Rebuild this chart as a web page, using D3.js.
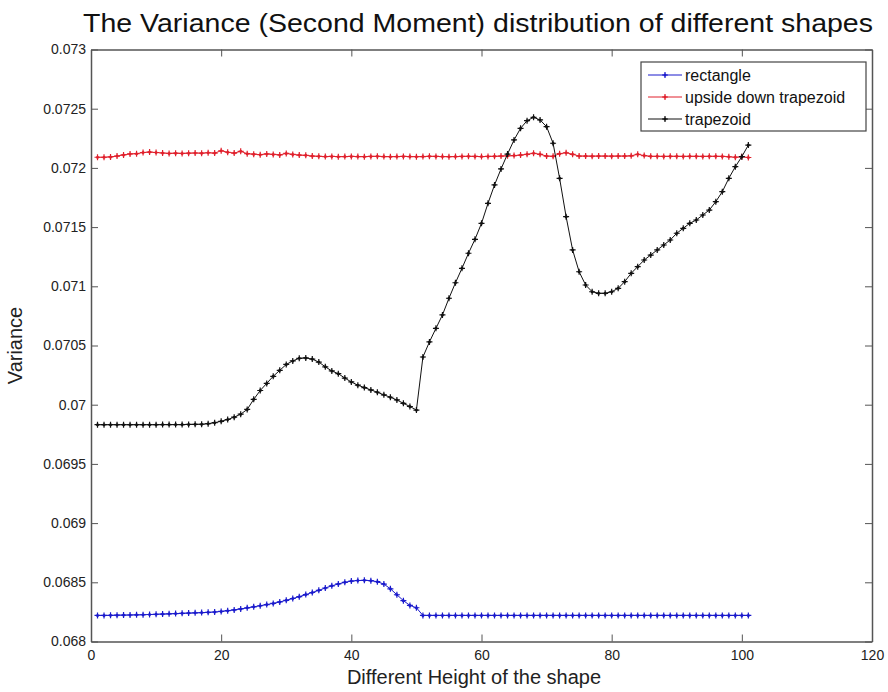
<!DOCTYPE html>
<html lang="en">
<head>
    <meta charset="UTF-8">
    <title>Variance distribution</title>
    <style>
        body { margin: 0; background: #fff; }
        text { font-family: "Liberation Sans", Arial, sans-serif; }
        .axis path, .axis line { stroke: #555; }
        .axis text { fill: #222; font-size: 14px; }
    </style>
</head>
<body>
<script src="https://d3js.org/d3.v7.min.js"></script>
<script>
    // data, x = 1..101
    var heights = d3.range(1, 102);

    var rectangle = [
        0.06822, 0.06822, 0.068221, 0.068222, 0.068223, 0.068224, 0.068225, 0.068226, 0.068228, 0.06823,
        0.068232, 0.068234, 0.068236, 0.068238, 0.06824, 0.068242, 0.068244, 0.068246, 0.068249, 0.068254,
        0.06826, 0.068267, 0.068275, 0.068284, 0.068293, 0.068302, 0.068312, 0.068322, 0.068334, 0.068348,
        0.068363, 0.068379, 0.068396, 0.068414, 0.068432, 0.068452, 0.06847, 0.068486, 0.0685, 0.06851,
        0.068515, 0.068517, 0.068514, 0.068505, 0.068485, 0.068445, 0.068395, 0.068345, 0.068305, 0.068285,
        0.06822, 0.06822, 0.06822, 0.06822, 0.06822, 0.06822, 0.06822, 0.06822, 0.06822, 0.06822,
        0.06822, 0.06822, 0.06822, 0.06822, 0.06822, 0.06822, 0.06822, 0.06822, 0.06822, 0.06822,
        0.06822, 0.06822, 0.06822, 0.06822, 0.06822, 0.06822, 0.06822, 0.06822, 0.06822, 0.06822,
        0.06822, 0.06822, 0.06822, 0.06822, 0.06822, 0.06822, 0.06822, 0.06822, 0.06822, 0.06822,
        0.06822, 0.06822, 0.06822, 0.06822, 0.06822, 0.06822, 0.06822, 0.06822, 0.06822, 0.06822,
        0.06822
    ];

    var upsideDown = [
        0.07209, 0.07209, 0.072093, 0.0721, 0.07211, 0.072118, 0.07212, 0.07213, 0.072134, 0.07213,
        0.072126, 0.072122, 0.072124, 0.072122, 0.072124, 0.072126, 0.072124, 0.072128, 0.072125, 0.072145,
        0.072132, 0.072125, 0.07214, 0.07212, 0.072116, 0.072112, 0.072118, 0.072114, 0.07211, 0.072122,
        0.072114, 0.072108, 0.072106, 0.0721, 0.072098, 0.072096, 0.072097, 0.072095, 0.072096, 0.072097,
        0.072096, 0.072095, 0.072097, 0.072098, 0.072096, 0.072095, 0.072096, 0.072097, 0.072096, 0.072095,
        0.072096, 0.072098, 0.072097, 0.072096, 0.072095, 0.072096, 0.072097, 0.072098, 0.072097, 0.072096,
        0.072097, 0.072098, 0.0721, 0.072102, 0.072104, 0.072108, 0.072115, 0.072123, 0.072115, 0.0721,
        0.072098, 0.07212, 0.072128, 0.072115, 0.0721, 0.0721, 0.072099, 0.0721, 0.0721, 0.072099,
        0.0721, 0.0721, 0.072102, 0.072115, 0.072104, 0.072098, 0.072098, 0.072097, 0.072098, 0.072098,
        0.072097, 0.072098, 0.072098, 0.072097, 0.072098, 0.072098, 0.072097, 0.072094, 0.07209, 0.072094,
        0.072088
    ];

    var trapezoid = [
        0.069831, 0.069831, 0.069831, 0.069831, 0.069831, 0.069831, 0.069831, 0.069831, 0.069831, 0.069831,
        0.069832, 0.069832, 0.069832, 0.069832, 0.069833, 0.069834, 0.069835, 0.06984, 0.069848, 0.06986,
        0.069875, 0.069895, 0.06992, 0.06996, 0.070045, 0.07012, 0.07018, 0.07024, 0.07029, 0.07034,
        0.07037, 0.070392, 0.070395, 0.070385, 0.07036, 0.07032, 0.070285, 0.070262, 0.070225, 0.070192,
        0.070165, 0.070145, 0.070125, 0.070105, 0.070083, 0.070063, 0.07004, 0.070012, 0.069985, 0.069955,
        0.070403, 0.07053, 0.070645, 0.070758, 0.070899, 0.07103, 0.071152, 0.071279, 0.071397, 0.071532,
        0.071701, 0.071856, 0.071991, 0.072117, 0.072236, 0.072334, 0.072399, 0.072427, 0.072405, 0.072348,
        0.072208, 0.071912, 0.071588, 0.071307, 0.071123, 0.071011, 0.070954, 0.070941, 0.070941, 0.070954,
        0.070983, 0.071039, 0.07111, 0.071166, 0.071222, 0.071264, 0.071307, 0.071349, 0.071391, 0.071448,
        0.07149, 0.071532, 0.07156, 0.071602, 0.071644, 0.071715, 0.071799, 0.071912, 0.07201, 0.072095,
        0.072193
    ];

    var seriesNames = ["rectangle", "upside down trapezoid", "trapezoid"];
    var seriesColors = ["#1a1acc", "#e0202c", "#111111"];
    var xTicks = [0, 20, 40, 60, 80, 100, 120];
    var yTicks = [0.068, 0.0685, 0.069, 0.0695, 0.07, 0.0705, 0.071, 0.0715, 0.072, 0.0725, 0.073];

    var W = 888, H = 692;
    var margin = {top: 49.5, right: 16, bottom: 50.5, left: 91};
    var width = W - margin.left - margin.right,
        height = H - margin.top - margin.bottom;

    var svg = d3.select("body").append("svg")
        .attr("width", W)
        .attr("height", H);

    var x = d3.scaleLinear().domain([0, 120]).range([0, width]);
    var y = d3.scaleLinear().domain([0.068, 0.073]).range([height, 0]);

    var g = svg.append("g")
        .attr("transform", "translate(" + margin.left + "," + margin.top + ")");

    // axes, ticks pointing inward like matlab
    g.append("g").attr("class", "axis")
        .attr("transform", "translate(0," + height + ")")
        .call(d3.axisBottom(x).tickValues(xTicks).tickSizeInner(-7).tickSizeOuter(0).tickPadding(6))
        .selectAll("text").attr("dy", "0.9em");
    g.append("g").attr("class", "axis")
        .call(d3.axisTop(x).tickValues(xTicks).tickSizeInner(-7).tickSizeOuter(0).tickFormat(""));
    g.append("g").attr("class", "axis")
        .call(d3.axisLeft(y).tickValues(yTicks).tickSizeInner(-7).tickSizeOuter(0).tickPadding(5)
            .tickFormat(function(d) { return +d.toFixed(4); }));
    g.append("g").attr("class", "axis")
        .attr("transform", "translate(" + width + ",0)")
        .call(d3.axisRight(y).tickValues(yTicks).tickSizeInner(-7).tickSizeOuter(0).tickFormat(""));
    g.selectAll(".axis path").attr("stroke-width", 1.5);

    var allSeries = [rectangle, upsideDown, trapezoid];
    var line = d3.line()
        .x(function(d, i) { return x(heights[i]); })
        .y(function(d) { return y(d); });

    // plus-and-dot marker
    function marker(sel, color) {
        sel.append("path")
            .attr("d", "M-3,0H3M0,-3V3")
            .attr("stroke", color)
            .attr("stroke-width", 1.2);
        sel.append("circle")
            .attr("r", 1.5)
            .attr("fill", color);
    }

    allSeries.forEach(function(data, k) {
        g.append("path")
            .datum(data)
            .attr("fill", "none")
            .attr("stroke", seriesColors[k])
            .attr("stroke-width", 1)
            .attr("d", line);
        g.selectAll(".m" + k)
            .data(data)
            .enter().append("g")
            .attr("class", "m" + k)
            .attr("transform", function(d, i) { return "translate(" + x(heights[i]) + "," + y(d) + ")"; })
            .each(function() { marker(d3.select(this), seriesColors[k]); });
    });

    // legend
    var leg = g.append("g").attr("transform", "translate(" + (641 - margin.left) + "," + (62 - margin.top) + ")");
    leg.append("rect")
        .attr("width", 225).attr("height", 69)
        .attr("fill", "#fff").attr("stroke", "#444").attr("stroke-width", 1.2);
    seriesNames.forEach(function(name, k) {
        var row = leg.append("g").attr("transform", "translate(0," + (13 + k * 22) + ")");
        row.append("line")
            .attr("x1", 7).attr("x2", 41)
            .attr("stroke", seriesColors[k]).attr("stroke-width", 1);
        marker(row.append("g").attr("transform", "translate(24,0)"), seriesColors[k]);
        row.append("text")
            .attr("x", 44).attr("dy", "0.35em")
            .attr("font-size", 16).attr("fill", "#111")
            .text(name);
    });

    // titles
    svg.append("text")
        .attr("x", 478).attr("y", 32)
        .attr("text-anchor", "middle")
        .attr("font-size", 26).attr("fill", "#111")
        .attr("textLength", 790).attr("lengthAdjust", "spacingAndGlyphs")
        .text("The Variance (Second Moment) distribution of different shapes");
    svg.append("text")
        .attr("x", 474).attr("y", 684)
        .attr("text-anchor", "middle")
        .attr("font-size", 20).attr("fill", "#222")
        .text("Different Height of the shape");
    svg.append("text")
        .attr("transform", "translate(22," + (margin.top + height / 2) + ") rotate(-90)")
        .attr("text-anchor", "middle")
        .attr("font-size", 20).attr("fill", "#222")
        .text("Variance");
</script>
</body>
</html>
